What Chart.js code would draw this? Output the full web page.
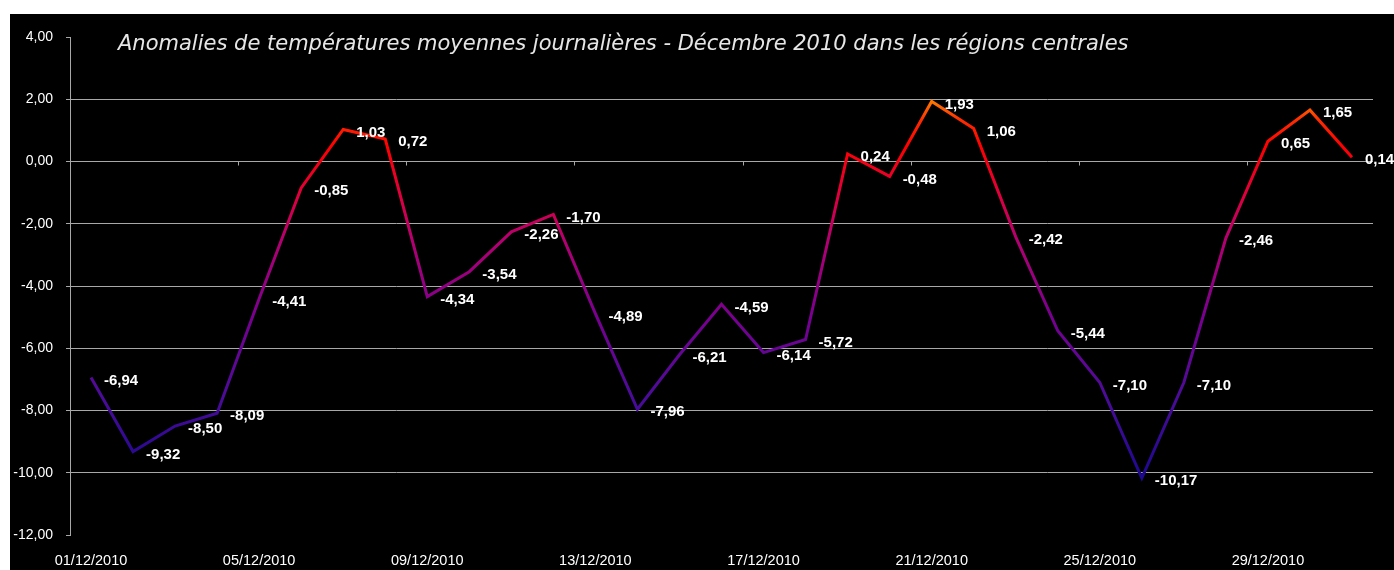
<!DOCTYPE html>
<html>
<head>
<meta charset="utf-8">
<script src="https://cdn.jsdelivr.net/npm/chart.js@4/dist/chart.umd.min.js"></script>
<style>
  html, body { margin: 0; padding: 0; background: #fff; }
  #wrap { position: absolute; left: 10px; top: 14px; width: 1384px; height: 556px; background: #000; }
</style>
</head>
<body>
<div id="wrap"><canvas id="anomalies"></canvas></div>
<script>
// days of December 2010
const days = [
  "01/12/2010", "02/12/2010", "03/12/2010", "04/12/2010", "05/12/2010", "06/12/2010",
  "07/12/2010", "08/12/2010", "09/12/2010", "10/12/2010", "11/12/2010", "12/12/2010",
  "13/12/2010", "14/12/2010", "15/12/2010", "16/12/2010", "17/12/2010", "18/12/2010",
  "19/12/2010", "20/12/2010", "21/12/2010", "22/12/2010", "23/12/2010", "24/12/2010",
  "25/12/2010", "26/12/2010", "27/12/2010", "28/12/2010", "29/12/2010", "30/12/2010",
  "31/12/2010"
]

// daily mean temperature anomaly (°C)
const anomalies = [
  -6.94, -9.32, -8.50, -8.09, -4.41, -0.85, 1.03, 0.72, -4.34, -3.54, -2.26, -1.70,
  -4.89, -7.96, -6.21, -4.59, -6.14, -5.72, 0.24, -0.48, 1.93, 1.06, -2.42, -5.44,
  -7.10, -10.17, -7.10, -2.46, 0.65, 1.65, 0.14
]

const yTicks = [4, 2, 0, -2, -4, -6, -8, -10, -12]

const chartTitle = "Anomalies de températures moyennes journalières - Décembre 2010 dans les régions centrales"

// value -> colour stops of the line
const colourStops = [
  [2.0, "#ff8000"],
  [1.3, "#ff2a00"],
  [0.5, "#ff0000"],
  [-1.0, "#e0003a"],
  [-2.5, "#b40070"],
  [-5.0, "#780090"],
  [-7.5, "#4c0c98"],
  [-10.2, "#1c0890"]
]

const fmt = (v) => v.toFixed(2).replace(".", ",")

const makeGradient = (chart) => {
  const { ctx, chartArea, scales } = chart
  if (!chartArea) return "#ff0000"
  const y = scales.y
  const top = y.getPixelForValue(4)
  const bottom = y.getPixelForValue(-12)
  const g = ctx.createLinearGradient(0, top, 0, bottom)
  colourStops.forEach(([v, c]) => {
    g.addColorStop((y.getPixelForValue(v) - top) / (bottom - top), c)
  })
  return g
}

// title, value labels and tick marks on the zero line
const decorations = {
  id: "decorations",
  afterDatasetsDraw(chart) {
    const { ctx, chartArea, scales } = chart
    const x = scales.x
    const y = scales.y
    ctx.save()

    // little ticks hanging under the 0 line, every 4 days
    const zero = y.getPixelForValue(0)
    const step = (x.getPixelForValue(1) - x.getPixelForValue(0))
    ctx.strokeStyle = "#a8a8a8"
    ctx.lineWidth = 1
    for (let i = 4; i < days.length; i += 4) {
      const px = Math.round(x.getPixelForValue(i) - step / 2) + 0.5
      ctx.beginPath()
      ctx.moveTo(px, zero)
      ctx.lineTo(px, zero + 4)
      ctx.stroke()
    }

    // value labels
    ctx.fillStyle = "#ffffff"
    ctx.font = "bold 15px 'Liberation Sans', Arial, sans-serif"
    ctx.textAlign = "left"
    ctx.textBaseline = "middle"
    chart.getDatasetMeta(0).data.forEach((pt, i) => {
      ctx.fillText(fmt(anomalies[i]), pt.x + 13, pt.y + 3)
    })

    // title
    ctx.fillStyle = "#e6e6e6"
    ctx.font = "italic 21px 'DejaVu Sans', Verdana, sans-serif"
    ctx.textBaseline = "middle"
    ctx.fillText(chartTitle, chartArea.left + 48, chartArea.top + 8)
    ctx.restore()
  },
}

const createAnomalyChart = (canvas) => {
  const ctx = canvas.getContext("2d")

  return new Chart(ctx, {
    type: "line",
    data: {
      labels: days,
      datasets: [
        {
          data: anomalies,
          borderColor: (c) => makeGradient(c.chart),
          borderWidth: 3,
          pointRadius: 0,
          tension: 0,
          borderJoinStyle: "miter",
        },
      ],
    },
    options: {
      responsive: true,
      maintainAspectRatio: false,
      animation: false,
      layout: { padding: { top: 23, right: 21, left: 0, bottom: 0 } },
      scales: {
        x: {
          offset: true,
          border: { display: false },
          grid: { display: false },
          ticks: {
            color: "#ffffff",
            font: { family: "'Liberation Sans', Arial, sans-serif", size: 14.5 },
            autoSkip: false,
            maxRotation: 0,
            padding: 9,
            callback: (val, i) => (i % 4 === 0 ? days[i] : ""),
          },
          afterFit: (scale) => { scale.height = 35 },
        },
        y: {
          min: -12,
          max: 4,
          afterBuildTicks: (scale) => {
            scale.ticks = yTicks.map((v) => ({ value: v }))
          },
          border: { display: true, color: "#a8a8a8", width: 1 },
          grid: {
            color: (c) => (c.tick && (c.tick.value === 4 || c.tick.value === -12) ? "rgba(0,0,0,0)" : "#a8a8a8"),
            tickColor: "#a8a8a8",
            tickLength: 4,
            lineWidth: 1,
          },
          ticks: {
            color: "#ffffff",
            font: { family: "'Liberation Sans', Arial, sans-serif", size: 14 },
            padding: 13,
            callback: (v) => fmt(v),
          },
          afterFit: (scale) => { scale.width = 60 },
        },
      },
      plugins: {
        legend: { display: false },
        title: { display: false },
        tooltip: { enabled: false },
      },
    },
    plugins: [decorations],
  })
}

createAnomalyChart(document.getElementById("anomalies"))
</script>
</body>
</html>
